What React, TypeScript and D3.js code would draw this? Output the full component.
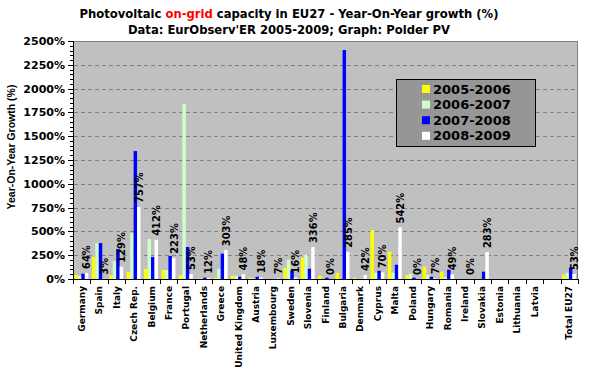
import React from "react";
import * as d3 from "d3";

const categories = ["Germany","Spain","Italy","Czech Rep.","Belgium","France","Portugal","Netherlands","Greece","United Kingdom","Austria","Luxembourg","Sweden","Slovenia","Finland","Bulgaria","Denmark","Cyprus","Malta","Poland","Hungary","Romania","Ireland","Slovakia","Estonia","Lithuania","Latvia","","Total EU27"];

const g0506 = [42,231,42,73,105,95,42,3,14,35,14,0,119,224,35,63,14,515,287,42,129,77,0,0,null,null,null,null,45];
const g0607 = [30,378,189,483,420,95,1838,3,108,35,8,0,203,255,0,0,0,66,66,56,45,20,0,0,null,null,null,null,66];
const g0708 = [56,378,315,1344,231,242,336,14,266,24,24,0,87,108,14,2405,0,87,150,14,24,98,0,77,null,null,null,null,119];
const g0809 = [64,3,129,757,412,223,53,12,303,48,18,7,16,336,0,285,42,70,542,0,7,49,0,283,null,null,null,null,53];

const seriesNames = ["2005-2006","2006-2007","2007-2008","2008-2009"];
const seriesColors = ["#FFFF00","#CCFFCC","#0000FF","#FFFFFF"];
const yTicks = [0,250,500,750,1000,1250,1500,1750,2000,2250,2500];

export default function App() {
  const W = 591, H = 371;
  const L = 73, R = 578, T = 41, B = 279;
  const series = [g0506, g0607, g0708, g0809];
  const x0 = d3.scaleBand<number>().domain(d3.range(categories.length)).range([L, R]);
  const bw = x0.bandwidth();
  const x1 = d3.scaleBand<number>().domain(d3.range(4)).range([bw * 0.08, bw * 0.88]);
  const y = d3.scaleLinear().domain([0, 2500]).range([B, T]);
  const minor = d3.range(0, 2501, 50);
  const font = "'DejaVu Sans', Verdana, sans-serif";
  const narrow = "'Liberation Sans Narrow', 'DejaVu Sans Condensed', 'Arial Narrow', sans-serif";

  return (
    <svg width={W} height={H} style={{ position: "absolute", left: 0, top: 0, background: "#fff" }}>
      <rect x={0} y={0} width={W} height={H} fill="#fff" />
      {/* title */}
      <text x={289} y={17.5} textAnchor="middle" fontFamily={font} fontWeight="bold" fontSize={11.6} fill="#000">
        Photovoltaic <tspan fill="#FF0000">on-grid</tspan> capacity in EU27 - Year-On-Year growth (%)
      </text>
      <text x={289} y={34} textAnchor="middle" fontFamily={font} fontWeight="bold" fontSize={11.6} fill="#000">
        Data: EurObserv'ER 2005-2009; Graph: Polder PV
      </text>
      {/* plot area */}
      <rect x={L + 0.5} y={T} width={R - L - 0.5} height={B - T} fill="#C0C0C0" />
      <line x1={L} x2={R} y1={T + 0.5} y2={T + 0.5} stroke="#808080" />
      <line x1={R - 0.5} x2={R - 0.5} y1={T} y2={B} stroke="#808080" />
      {yTicks.filter(t => t > 0 && t < 2500).map(t => (
        <line key={"g" + t} x1={L + 1} x2={R - 1} y1={Math.round(y(t)) + 0.5} y2={Math.round(y(t)) + 0.5}
          stroke="#808080" strokeDasharray="4,3" />
      ))}
      {/* bars */}
      {categories.map((c, i) => (
        <g key={"c" + i}>
          {series.map((s, k) => {
            const v = s[i];
            if (v == null || v <= 0) return null;
            const yy = y(v);
            return <rect key={k} x={x0(i)! + x1(k)!} y={yy} width={x1.bandwidth()} height={B - yy} fill={seriesColors[k]} />;
          })}
        </g>
      ))}
      {/* value labels */}
      {categories.map((c, i) => {
        const v = g0809[i];
        if (v == null) return null;
        const cx = x0(i)! + x1(3)! + x1.bandwidth() / 2;
        const yy = y(v) - 4;
        return (
          <text key={"v" + i} transform={`translate(${cx},${yy}) rotate(-90)`} dy="0.35em"
            fontFamily={narrow} fontWeight="bold" fontSize={11} fill="#000">{v + "%"}</text>
        );
      })}
      {/* axes */}
      <line x1={L + 0.5} x2={L + 0.5} y1={T} y2={B + 1} stroke="#000" />
      <line x1={L} x2={R} y1={B + 0.5} y2={B + 0.5} stroke="#000" />
      {minor.map(t => (
        <line key={"m" + t} x1={L - (t % 250 === 0 ? 5 : 3)} x2={L} y1={Math.round(y(t)) + 0.5} y2={Math.round(y(t)) + 0.5} stroke="#000" />
      ))}
      {yTicks.map(t => (
        <text key={"yl" + t} x={65} y={y(t)} dy="0.36em" textAnchor="end" fontFamily={font} fontWeight="bold" fontSize={11} fill="#000">{t + "%"}</text>
      ))}
      {d3.range(categories.length + 1).map(i => {
        const xx = Math.round(L + i * bw) + 0.5;
        return <line key={"xt" + i} x1={xx} x2={xx} y1={B} y2={B + 5} stroke="#000" />;
      })}
      {categories.map((c, i) => (
        <text key={"xl" + i} transform={`translate(${x0(i)! + bw / 2},${B + 7}) rotate(-90)`} dy="0.35em" textAnchor="end"
          fontFamily={font} fontWeight="bold" fontSize={9} fill="#000">{c}</text>
      ))}
      <text transform={`translate(11,147) rotate(-90)`} dy="0.35em" textAnchor="middle" fontFamily="'Liberation Sans', Arial, sans-serif" fontWeight="bold" fontSize={10.5} fill="#000">
        Year-On-Year Growth (%)
      </text>
      {/* legend */}
      <rect x={396.5} y={79.5} width={139} height={67} fill="#969696" stroke="#000" />
      {seriesNames.map((s, k) => (
        <g key={"lg" + k}>
          <rect x={422} y={89 + k * 15.6 - 4} width={8} height={8} fill={seriesColors[k]} />
          <text x={433} y={89 + k * 15.6} dy="0.36em" fontFamily={font} fontWeight="bold" fontSize={13} fill="#000">{s}</text>
        </g>
      ))}
    </svg>
  );
}
